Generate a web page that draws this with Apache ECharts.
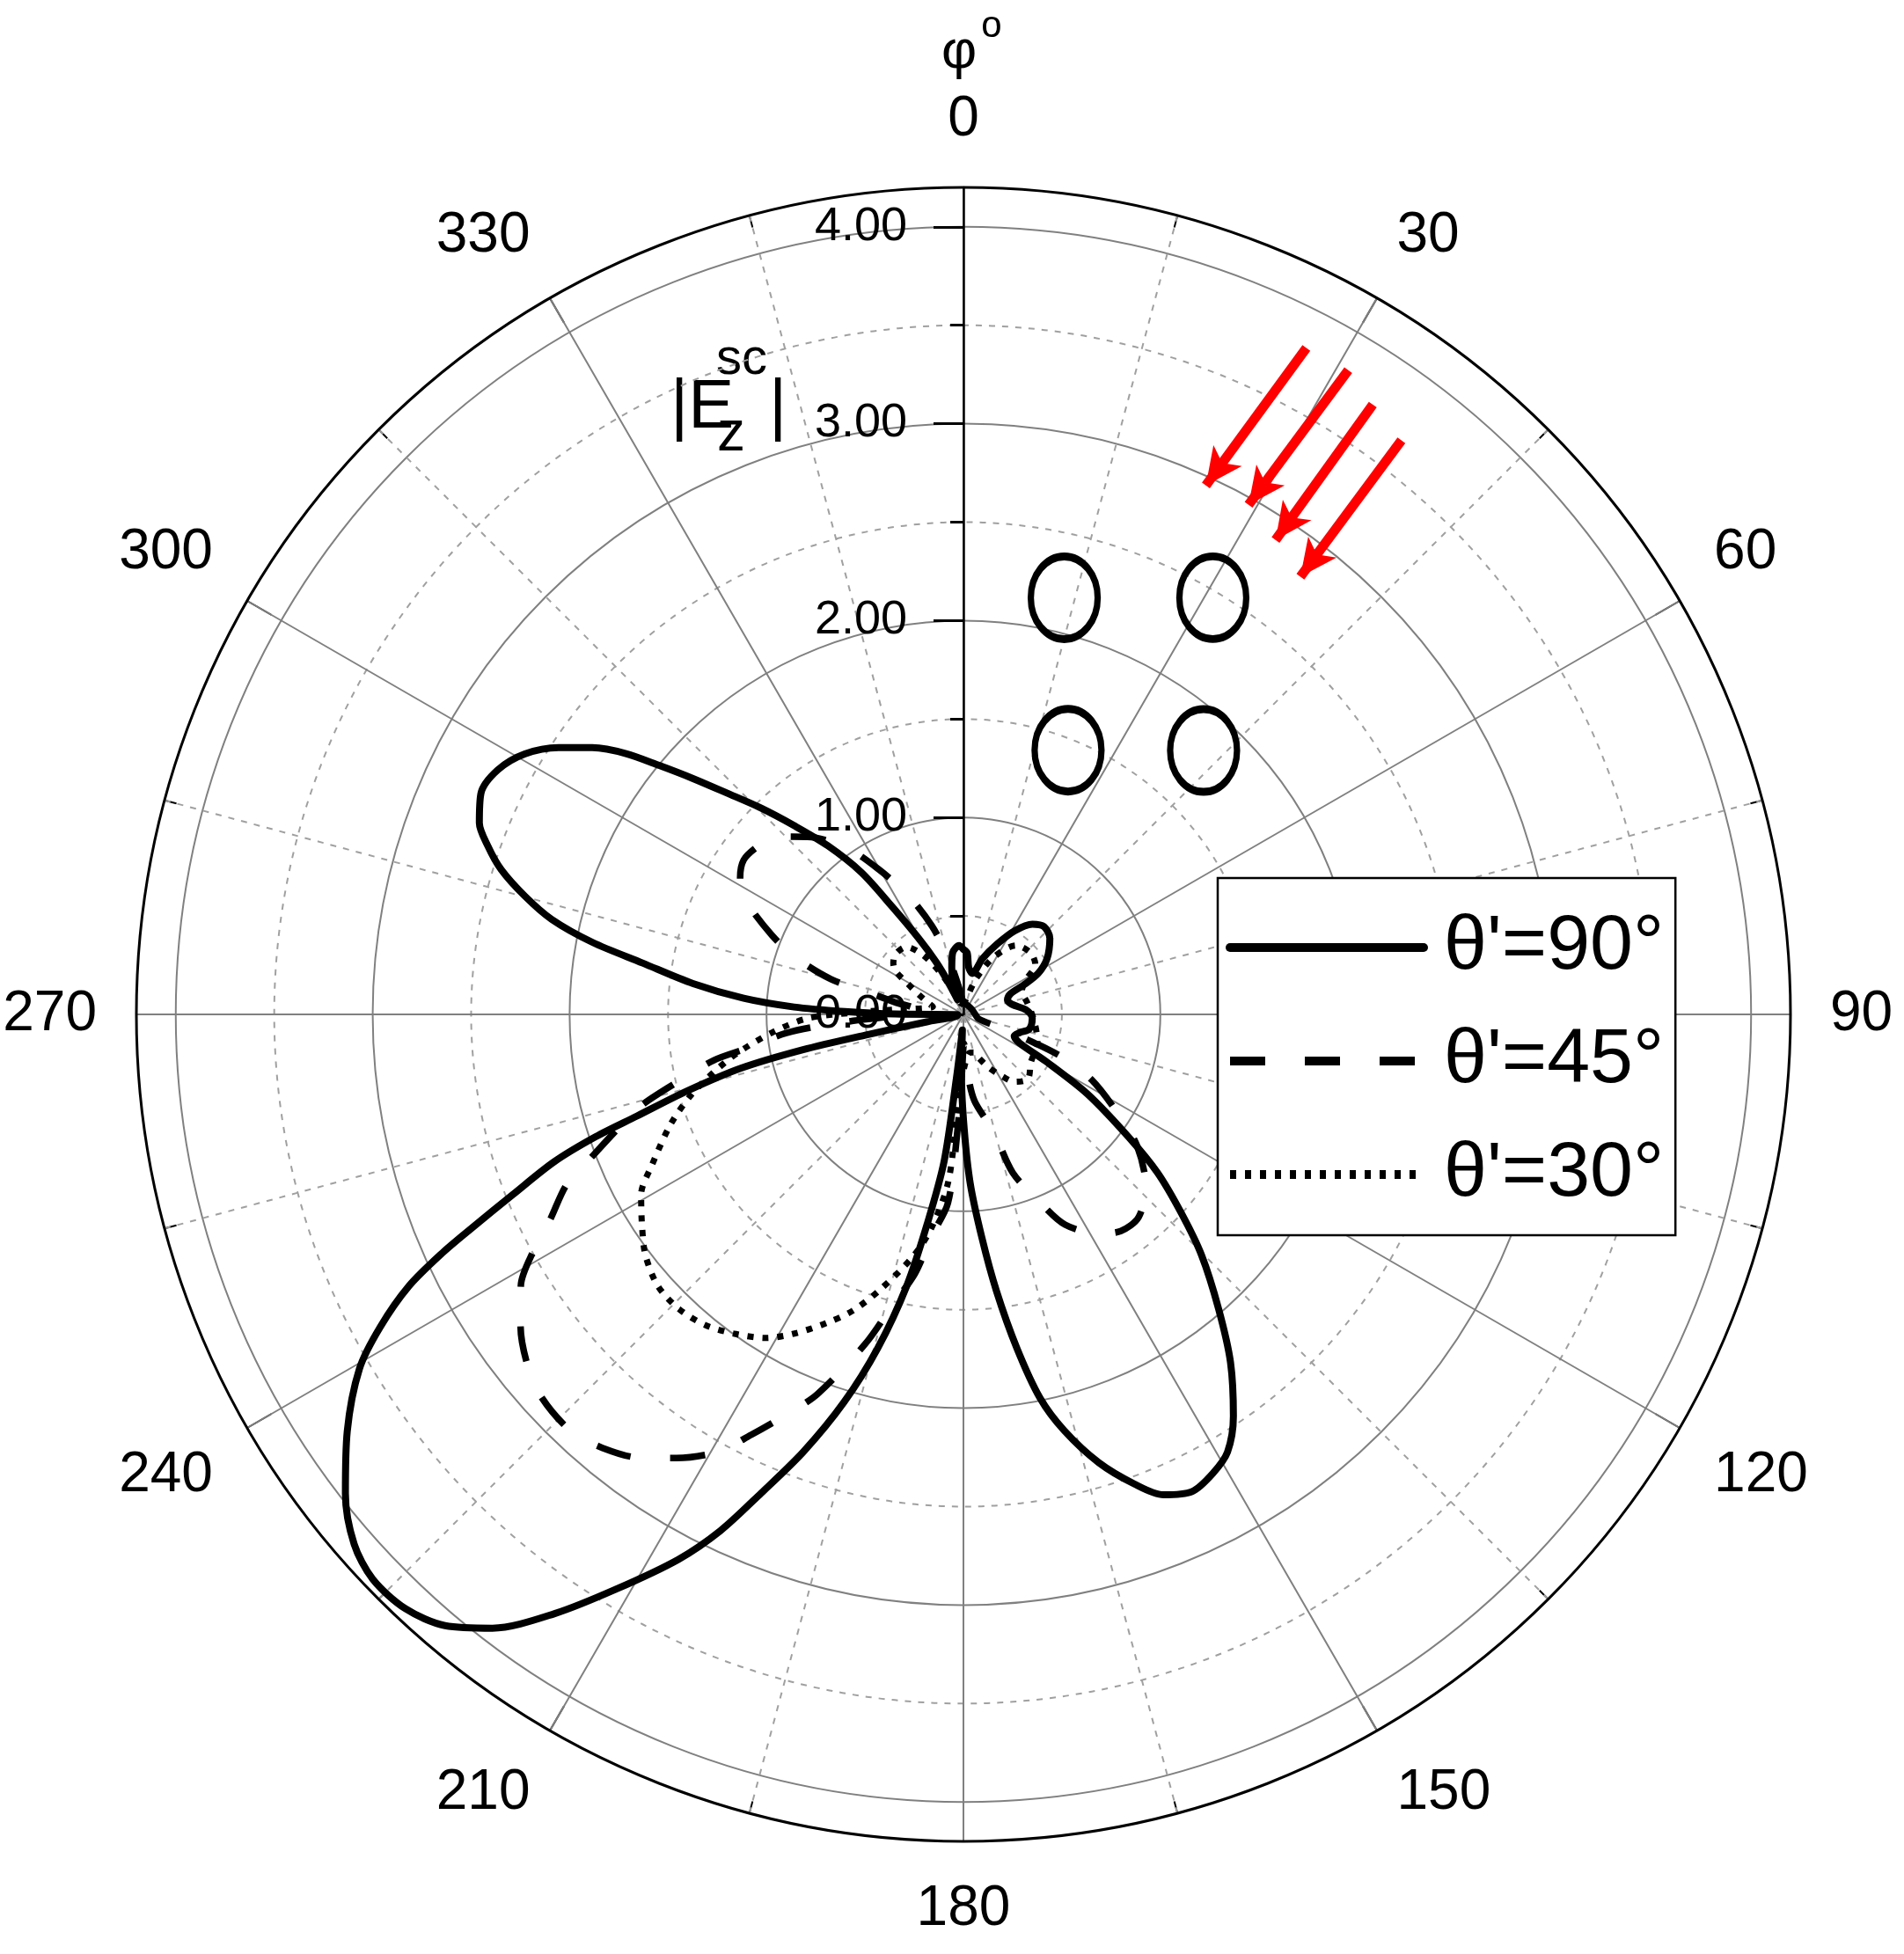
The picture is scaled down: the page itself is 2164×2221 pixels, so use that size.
<!DOCTYPE html>
<html><head><meta charset="utf-8">
<script src="https://cdn.jsdelivr.net/npm/echarts@6/dist/echarts.min.js"></script>
<style>html,body{margin:0;padding:0;background:#fff}#c{width:2164px;height:2221px}</style>
</head><body><div id="c"></div>
<script>
// ---- data (radius |Ez^sc|, angle phi in degrees) ----
const radiusTickValues = [0, 1, 2, 3, 4];
const seriesNames = ["θ'=90°", "θ'=45°", "θ'=30°"];

const phi90 = [0,3.5,6.4,12.2,18.9,25.6,31.5,37.4,42.5,48.6,56.3,61.2,64,66.4,72,78,86,93,102.5,108,113,117,119.7,122.7,126.6,129.2,132.3,135.3,139.1,142.5,146.1,148.9,151.5,154.4,157.4,160,163.2,166.4,168.7,170.9,173.2,175.3,177.7,179.6,181.8,183.8,186.3,187.5,189.8,191.8,194.4,197.1,200.1,202.9,205.2,207.6,211.1,214.3,217.5,220.3,223.2,226.3,229,232.2,235.9,239.6,241.8,243.9,245.4,246.5,248.2,250.2,251.6,252.7,254.5,256.4,257.6,258.1,258.5,262,269,270.3,271.4,272.5,274.2,276.5,279.1,281,283,285.1,287.4,289.5,291.6,294.6,297.7,300.7,303.4,305.7,307.7,309.3,311.1,313.1,315.5,318.1,321.2,324.3,326.5,329.5,332.5,335,338,341,346,350,356.4,360];
const r90 = [0.33,0.313,0.24,0.213,0.30,0.396,0.498,0.577,0.605,0.585,0.51,0.433,0.34,0.26,0.235,0.25,0.32,0.35,0.343,0.30,0.28,0.32,0.484,0.747,1.043,1.271,1.492,1.718,1.979,2.228,2.458,2.596,2.653,2.687,2.643,2.538,2.378,2.174,1.988,1.717,1.414,1.135,0.859,0.585,0.313,0.08,0.328,0.754,1.079,1.409,1.75,2.059,2.366,2.639,2.898,3.123,3.407,3.684,3.929,4.07,4.14,4.15,4.1,3.972,3.779,3.556,3.361,3.135,2.91,2.724,2.465,2.208,1.968,1.736,1.457,1.164,0.834,0.51,0.19,0.03,0.03,0.347,0.603,0.861,1.119,1.382,1.65,1.92,2.146,2.307,2.46,2.562,2.644,2.695,2.671,2.591,2.462,2.321,2.166,1.996,1.822,1.645,1.471,1.289,1.099,0.888,0.657,0.45,0.3,0.18,0.08,0.16,0.245,0.317,0.35,0.33];

const phi45 = [0,30,60,90,106,110,112,113.5,117,122.7,127.1,133.4,139.2,144,148.3,154.2,158,162.7,165.6,172.7,176,179,181.5,183,184.7,188.2,190.6,193.5,196.6,201,203.5,206.8,209.3,212.9,216,219.8,223.3,227.7,231.2,234.9,238.5,241.2,243.6,246.8,249,251.5,254.2,257.1,259.6,261.2,264,266,268,271,276,280,283.3,284.9,288.6,292.5,298.1,301.5,305.1,309,313.3,318.7,325.1,329.6,335.1,340.4,345,350,355,360];
const r45 = [0.06,0.05,0.05,0.06,0.08,0.2,0.4,0.55,0.73,0.932,1.105,1.275,1.361,1.36,1.308,1.186,1.023,0.842,0.614,0.444,0.3,0.15,0.3,0.6,0.961,1.138,1.339,1.505,1.747,2.064,2.203,2.393,2.547,2.683,2.784,2.865,2.907,2.894,2.841,2.749,2.636,2.491,2.343,2.192,2.023,1.86,1.7,1.462,1.288,1.101,0.904,0.65,0.4,0.25,0.25,0.35,0.517,0.697,0.892,1.054,1.266,1.33,1.364,1.35,1.316,1.2,1.028,0.857,0.666,0.476,0.3,0.15,0.08,0.06];

const phi30 = [0,10,20,28,37.4,47.6,55.3,60.8,68,80,95,110,125.7,135,142.8,148.3,154.8,160,165,172,178,182,183.8,185.2,188.5,191.8,196.9,200.5,204,207.9,211.4,215.6,219.7,224,228.4,232.9,236.7,240.8,244.1,249.4,253.5,257,260.2,264.5,268.5,271,274,279,284,287,293.5,298.9,302.3,306,310.4,315,319.7,326,332,338,345,360];
const r30 = [0.05,0.08,0.2,0.33,0.44,0.463,0.444,0.367,0.32,0.33,0.36,0.4,0.421,0.463,0.43,0.367,0.296,0.24,0.2,0.2,0.25,0.35,0.538,0.856,1.096,1.258,1.463,1.607,1.717,1.834,1.925,1.995,2.051,2.08,2.076,2.025,1.953,1.875,1.76,1.589,1.443,1.3,1.169,0.98,0.794,0.55,0.35,0.2,0.16,0.18,0.243,0.323,0.405,0.44,0.459,0.46,0.449,0.36,0.22,0.1,0.06,0.05];

// scatterers (cylinders)
const cylR = [2.177, 2.466, 1.443, 1.812];
const cylPhi = [13.6, 30.9, 21.6, 42.3];

// incident-wave arrows (tail -> head)
const arrowTailR = [3.806, 3.811, 3.730, 3.667];
const arrowTailPhi = [27.23, 30.85, 33.87, 37.34];
const arrowHeadR = [2.955, 2.966, 2.884, 2.805];
const arrowHeadPhi = [24.62, 29.22, 33.34, 37.59];

// ---- chart ----
const pair = (rs, ps) => rs.map((r, i) => [r, ps[i]]);
const SANS = "'Liberation Sans',Arial,sans-serif";

const chart = echarts.init(document.getElementById('c'), null, {renderer: 'canvas'});
const option = {
  backgroundColor: '#fff',
  animation: false,
  polar: {center: [1095, 1153], radius: 940},
  angleAxis: {
    type: 'value', min: 0, max: 360, interval: 30, startAngle: 90, clockwise: true,
    axisLine: {show: true, lineStyle: {color: '#000', width: 3}},
    axisTick: {show: true, inside: true, length: 32, lineStyle: {color: '#000', width: 2}},
    minorTick: {show: true, splitNumber: 2, length: 14, lineStyle: {color: '#000', width: 2}},
    axisLabel: {show: true, margin: 45, fontSize: 64, fontFamily: SANS, color: '#000',
      formatter: v => (v >= 360 ? '' : String(v))},
    splitLine: {show: true, lineStyle: {color: '#808080', width: 2}},
    minorSplitLine: {show: true, lineStyle: {color: '#a0a0a0', width: 2, type: [7, 8]}}
  },
  radiusAxis: {
    type: 'value', min: 0, max: 4.2, interval: 1,
    axisLine: {show: true, lineStyle: {color: '#000', width: 2.5}},
    axisTick: {show: true, length: 34, customValues: radiusTickValues, lineStyle: {color: '#000', width: 3}},
    minorTick: {show: true, splitNumber: 2, length: 15, lineStyle: {color: '#000', width: 3}},
    axisLabel: {show: true, margin: 64, fontSize: 54, fontFamily: SANS, color: '#000',
      customValues: radiusTickValues,
      formatter: v => (Math.abs(v - Math.round(v)) < 1e-6 ? Number(v).toFixed(2) : '')},
    splitLine: {show: true, lineStyle: {color: '#808080', width: 2}},
    minorSplitLine: {show: true, lineStyle: {color: '#a0a0a0', width: 2, type: [7, 8]}}
  },
  legend: {
    orient: 'vertical', left: 1384, top: 998,
    padding: [34, 13, 24, 9],
    itemWidth: 220, itemHeight: 20, itemGap: 39,
    backgroundColor: '#fff', borderColor: '#000', borderWidth: 2.5,
    selectedMode: false,
    itemStyle: {opacity: 0},
    lineStyle: {width: 10},
    textStyle: {fontSize: 88, fontFamily: SANS, color: '#000', lineHeight: 90, padding: [0, 0, 0, 18]},
    data: seriesNames
  },
  graphic: [
    {type: 'text', x: 1090, y: 60, style: {text: 'φ', fontSize: 62, fontFamily: SANS, fill: '#000', align: 'center', verticalAlign: 'middle'}},
    {type: 'text', x: 1127, y: 30, style: {text: 'o', fontSize: 42, fontFamily: SANS, fill: '#000', align: 'center', verticalAlign: 'middle'}},
    {type: 'text', x: 762, y: 464, style: {text: '|E', fontSize: 78, fontFamily: SANS, fill: '#000', align: 'left', verticalAlign: 'middle'}},
    {type: 'text', x: 814, y: 409, style: {text: 'sc', fontSize: 58, fontFamily: SANS, fill: '#000', align: 'left', verticalAlign: 'middle'}},
    {type: 'text', x: 815, y: 494, style: {text: 'z', fontSize: 64, fontFamily: SANS, fill: '#000', align: 'left', verticalAlign: 'middle'}},
    {type: 'text', x: 874, y: 464, style: {text: '|', fontSize: 78, fontFamily: SANS, fill: '#000', align: 'left', verticalAlign: 'middle'}}
  ],
  series: [
    {name: seriesNames[0], type: 'line', coordinateSystem: 'polar', data: pair(r90, phi90),
      symbol: 'none', smooth: 0.3, z: 5, itemStyle: {color: '#000'},
      lineStyle: {color: '#000', width: 8, type: 'solid', cap: 'round', join: 'round'}},
    {name: seriesNames[1], type: 'line', coordinateSystem: 'polar', data: pair(r45, phi45),
      symbol: 'none', smooth: 0.3, z: 5, itemStyle: {color: '#000'},
      lineStyle: {color: '#000', width: 7.5, type: [40, 45], cap: 'butt'}},
    {name: seriesNames[2], type: 'line', coordinateSystem: 'polar', data: pair(r30, phi30),
      symbol: 'none', smooth: 0.3, z: 5, itemStyle: {color: '#000'},
      lineStyle: {color: '#000', width: 7, type: [7, 10], cap: 'butt'}},
    {name: 'cylinders', type: 'scatter', coordinateSystem: 'polar', data: pair(cylR, cylPhi),
      symbol: 'circle', symbolSize: [76, 94], z: 6, silent: true,
      itemStyle: {color: 'rgba(0,0,0,0)', borderColor: '#000', borderWidth: 8, opacity: 1}},
    {name: 'incident', type: 'line', coordinateSystem: 'polar', data: pair(arrowTailR, arrowTailPhi),
      symbol: 'none', z: 7, silent: true, lineStyle: {opacity: 0},
      markLine: {
        silent: true, animation: false, symbol: ['none', 'arrow'], symbolSize: [30, 42],
        label: {show: false},
        lineStyle: {color: '#ff0000', width: 11, type: 'solid', opacity: 1},
        data: arrowTailR.map((r, i) => [{coord: [r, arrowTailPhi[i]]}, {coord: [arrowHeadR[i], arrowHeadPhi[i]]}])
      }}
  ]
};
chart.setOption(option);
</script>
</body></html>
